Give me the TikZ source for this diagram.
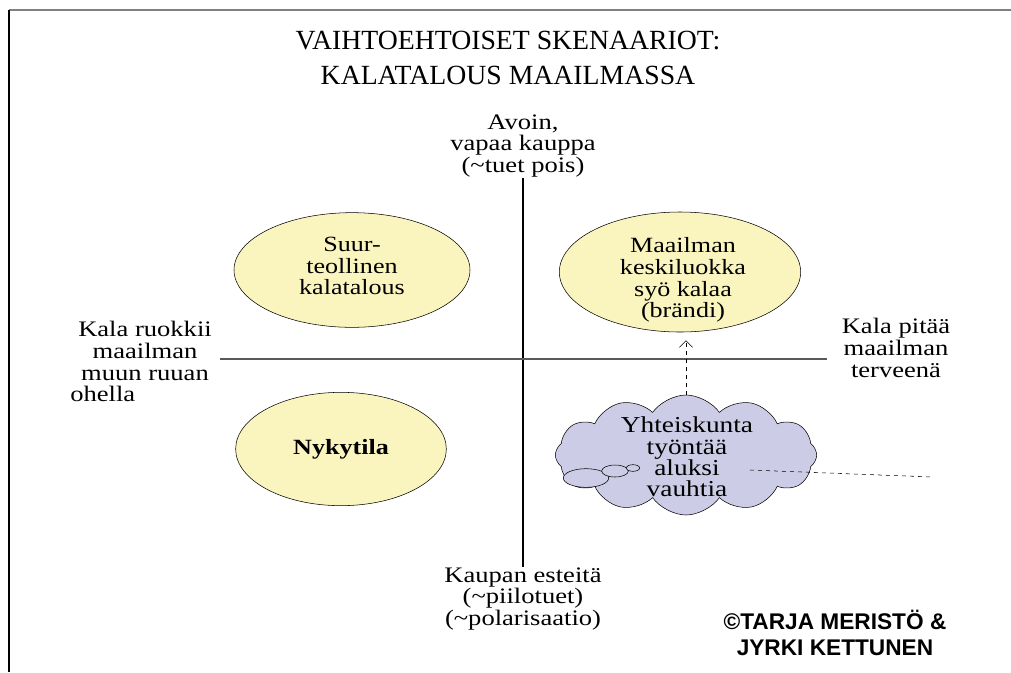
\documentclass[tikz,border=0pt]{standalone}
\usepackage{fontspec}
\setmainfont{Liberation Serif}
\newfontfamily\widefont[FakeStretch=1.2]{Liberation Serif}
\newfontfamily\arialfont{Liberation Sans}
\usetikzlibrary{positioning,shapes,arrows.meta}
\definecolor{ovalfill}{RGB}{250,245,190}
\definecolor{cloudfill}{RGB}{204,204,230}
\newcommand{\tightlines}{\lineskiplimit-20pt\lineskip0pt\relax}

\begin{document}
\begin{tikzpicture}[x=0.75pt,y=-0.75pt]
\tikzstyle{oval}=[draw,shape=ellipse,fill=ovalfill];
\tikzstyle{txt}=[align=center,font=\widefont\fontsize{16.3}{16.3}\selectfont\tightlines,inner sep=0pt];
\tikzstyle{axislbl}=[align=center,font=\widefont\fontsize{16.6}{16.3}\selectfont\tightlines,inner sep=0pt];
\tikzstyle{bubble}=[draw,shape=ellipse,fill=cloudfill,inner sep=0pt];

\useasboundingbox (0,0) rectangle (1011,672);
\draw[gray,line width=0.8pt] (9,10) -- (1011,10);
\draw[line width=0.8pt] (9,10) -- (9,672);

% title
\node[align=center,font=\fontsize{20.8}{26}\selectfont] (title) at (508,58) {VAIHTOEHTOISET SKENAARIOT:\\KALATALOUS MAAILMASSA};

% axis labels
\node[axislbl] (open) at (523,146) {Avoin,\\vapaa kauppa\\(\textasciitilde tuet pois)};
\node[axislbl] (barrier) at (523,599) {Kaupan esteitä\\(\textasciitilde piilotuet)\\(\textasciitilde polarisaatio)};
\node[axislbl] (feeds) at (145,351) {Kala ruokkii\\maailman\\muun ruuan};
\node[axislbl,anchor=west] (feedsend) at (70,394) {ohella};
\node[axislbl] (health) at (896,348) {Kala pitää\\maailman\\terveenä};

\coordinate (west) at (220,359);
\coordinate (east) at (827,359);
\draw[line width=0.9pt] (open.south) -- (barrier.north);
\draw[gray!70!black,line width=0.9pt] (west) -- (east);

% scenarios
\node[oval,minimum width=177pt,minimum height=86pt] (industry) at (352,270) {};
\node[txt] (industrytxt) at (352,266) {Suur-\\teollinen\\kalatalous};
\node[oval,minimum width=181pt,minimum height=90pt] (brand) at (680,272) {};
\node[txt] (brandtxt) at (683,280) {Maailman\\keskiluokka\\syö kalaa\\(brändi)};
\node[oval,minimum width=158pt,minimum height=85pt] (now) at (341,449) {};
\node[txt,font=\widefont\fontsize{16.3}{16.3}\selectfont\bfseries] (nowtxt) at (now) {Nykytila};

% cloud
\node[draw,cloud,cloud puffs=12,cloud puff arc=110,aspect=2.2,fill=cloudfill,
      minimum width=196pt,minimum height=90pt,inner sep=0pt] (cloud) at (686,455) {};
\draw[dashed,-{Straight Barb[length=5pt,width=10pt]},shorten >=6pt] (cloud.north) -- (cloud.north |- brand.south);
\node[bubble,minimum width=34pt,minimum height=14pt] (b1) at (586,478) {};
\node[bubble,minimum width=20pt,minimum height=9pt] (b2) at (615,471) {};
\node[bubble,minimum width=10pt,minimum height=5pt] (b3) at (633,468) {};
\node[txt,font=\widefont\fontsize{17.1}{16}\selectfont\tightlines] (cloudtxt) at (687,457) {Yhteiskunta\\työntää\\aluksi\\vauhtia};

\coordinate (trailstart) at (750,470);
\coordinate (trailend) at (932,477);
\draw[dashed] (trailstart) -- (trailend);

% copyright
\node[align=center,font=\arialfont\bfseries\fontsize{17}{19.5}\selectfont] (copy) at (835,633) {©TARJA MERISTÖ \&\\JYRKI KETTUNEN};
\end{tikzpicture}
\end{document}
